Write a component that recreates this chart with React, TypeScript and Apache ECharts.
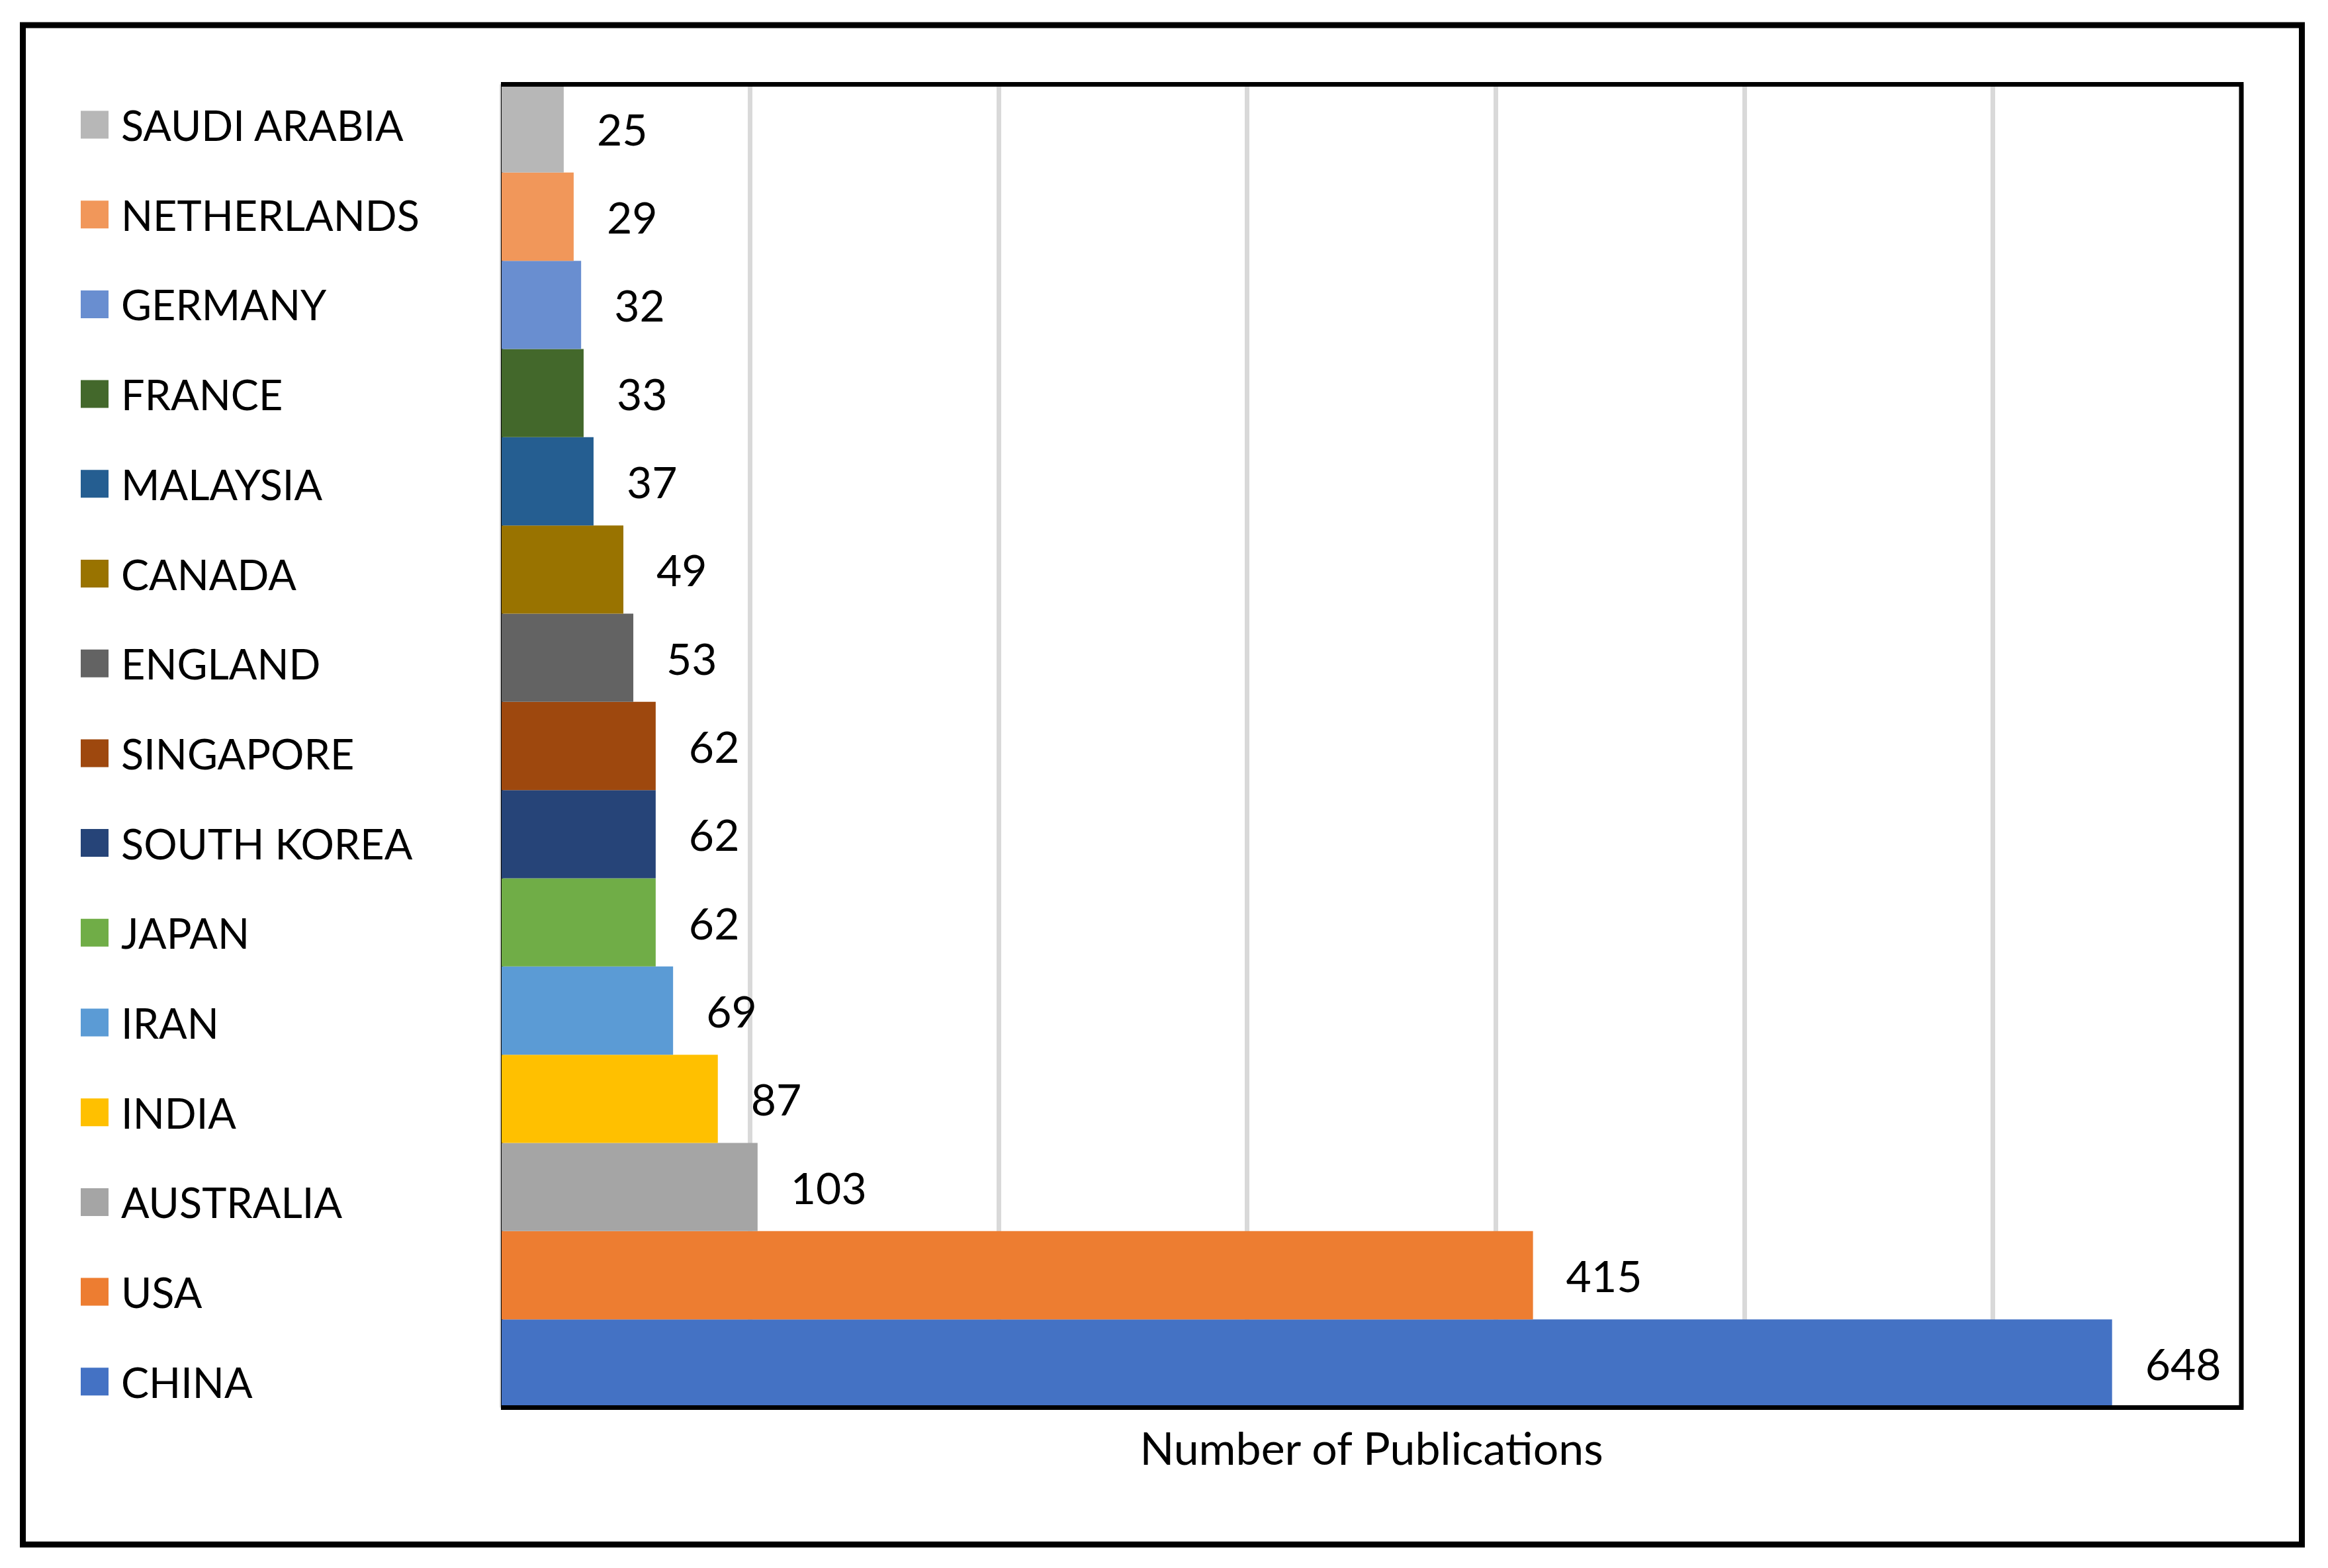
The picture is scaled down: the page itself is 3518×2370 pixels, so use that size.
import React, { useEffect, useRef } from "react";
import * as echarts from "echarts";

const categories = [
  "CHINA", "USA", "AUSTRALIA", "INDIA", "IRAN", "JAPAN", "SOUTH KOREA",
  "SINGAPORE", "ENGLAND", "CANADA", "MALAYSIA", "FRANCE", "GERMANY",
  "NETHERLANDS", "SAUDI ARABIA",
];
const values = [648, 415, 103, 87, 69, 62, 62, 62, 53, 49, 37, 33, 32, 29, 25];
const colors = [
  "#4472c4", "#ed7d31", "#a5a5a5", "#ffc000", "#5b9bd5", "#70ad47", "#264478",
  "#9e480e", "#636363", "#997300", "#255e91", "#43682b", "#698ed0",
  "#f1975a", "#b7b7b7",
];
const xTicks = { min: 0, max: 700, interval: 100 };
const xTitle = "Number of Publications";

const FONT = "Lato";

export default function App() {
  const ref = useRef<HTMLDivElement>(null);
  useEffect(() => {
    if (!ref.current) return;
    const chart = echarts.init(ref.current, undefined, { renderer: "svg" });
    const G = { left: 758, top: 127.5, width: 2629, height: 2000 };
    const series = categories.map((name, i) => ({
      name,
      type: "bar",
      stack: "all",
      barCategoryGap: "0%",
      barWidth: "100%",
      itemStyle: { color: colors[i] },
      label: {
        show: true,
        position: "right",
        distance: 50,
        color: "#000",
        fontFamily: FONT,
        fontSize: 66,
        formatter: (p: any) => String(p.value),
      },
      data: values.map((v, j) => (j === i ? v : "-")),
    }));
    chart.setOption({
      animation: false,
      backgroundColor: "#fff",
      grid: { ...G, containLabel: false },
      legend: {
        orient: "vertical",
        left: 122,
        top: 157,
        padding: 0,
        itemWidth: 42,
        itemHeight: 42,
        itemGap: 72.7,
        icon: "rect",
        selectedMode: false,
        data: categories.slice().reverse(),
        textStyle: {
          fontFamily: FONT,
          fontSize: 63,
          color: "#000",
          padding: [0, 0, 0, 14],
        },
      },
      xAxis: {
        type: "value",
        min: xTicks.min,
        max: xTicks.max,
        interval: xTicks.interval,
        name: xTitle,
        nameLocation: "middle",
        nameGap: 26,
        nameTextStyle: { fontFamily: FONT, fontSize: 68, color: "#000" },
        axisLabel: { show: false },
        axisTick: { show: false },
        axisLine: { show: false },
        splitLine: { show: true, lineStyle: { color: "#d9d9d9", width: 7 } },
      },
      yAxis: {
        type: "category",
        data: categories,
        axisLabel: { show: false },
        axisTick: { show: false },
        axisLine: { show: true, lineStyle: { color: "#000", width: 3 } },
        splitLine: { show: false },
      },
      series,
      graphic: [
        {
          type: "polyline",
          z: 100,
          shape: {
            points: [
              [G.left - 1, G.top],
              [G.left + G.width, G.top],
              [G.left + G.width, G.top + G.height],
              [G.left - 1, G.top + G.height],
            ],
          },
          style: { stroke: "#000", lineWidth: 7, fill: null },
        },
        {
          type: "rect",
          z: 100,
          shape: { x: 34.5, y: 38, width: 3444, height: 2296.5 },
          style: { stroke: "#000", lineWidth: 9, fill: null },
        },
      ],
    });
    return () => chart.dispose();
  }, []);
  return (
    <div
      ref={ref}
      style={{ position: "fixed", left: 0, top: 0, width: 3518, height: 2370 }}
    />
  );
}
